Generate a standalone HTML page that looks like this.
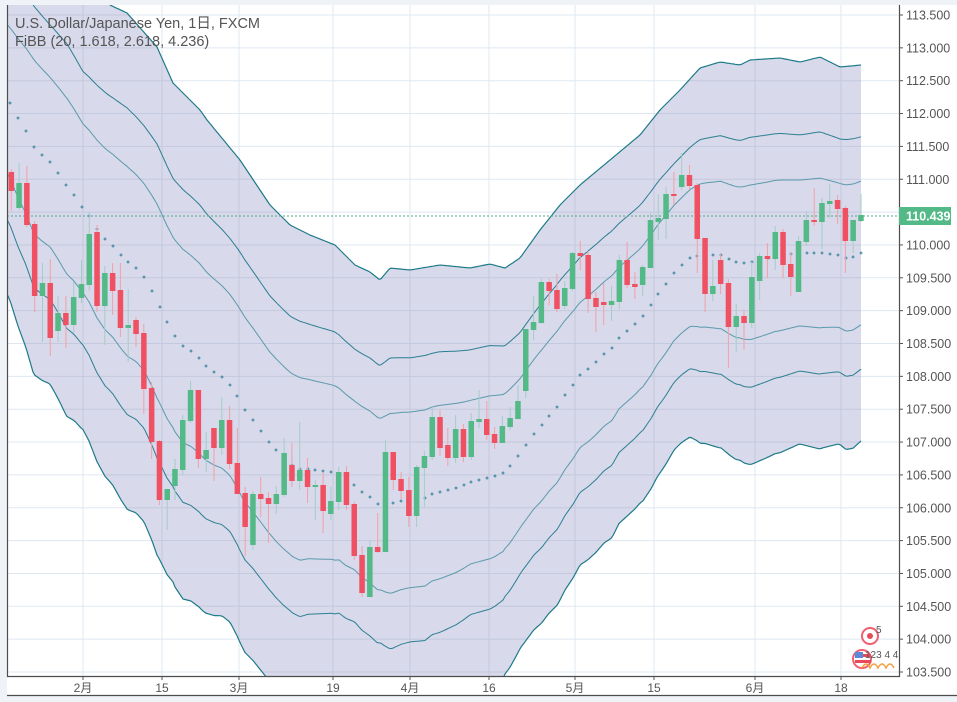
<!DOCTYPE html>
<html><head><meta charset="utf-8"><style>
html,body{margin:0;width:957px;height:702px;background:#eff3f7;overflow:hidden}
svg{display:block;position:absolute;left:0;top:0}
text{font-family:"Liberation Sans","Noto Sans CJK JP",sans-serif;fill:#555}
</style></head><body>
<svg id="s" width="957" height="702" xmlns="http://www.w3.org/2000/svg"></svg>
<script>
const S=document.getElementById('s');let h='';
const X0=7,X1=899,Y0=5,Y1=676;
const mid=[[7,99],[10,103],[18,118],[26,131],[34,147],[42,155],[50,162],[58,173],[66,185],[74,195],[82,207],[89,216],[97,229],[105,239],[113,246],[121,255],[128,262],[136,268],[144,277],[152,291],[160,307],[167,322],[175,336],[183,346],[191,351],[199,358],[206,366],[214,372],[222,377],[230,385],[237,396],[245,410],[253,420],[261,431],[269,442],[276,450],[284,458],[292,465],[300,469],[308,469],[315,470],[323,471],[331,472],[339,474],[346,480],[354,485],[362,492],[370,497],[378,504],[385,504],[393,503],[401,501],[409,500],[417,499],[425,498],[432,494],[440,492],[448,490],[456,488],[464,485],[471,482],[479,480],[487,478],[495,476],[503,473],[510,466],[518,456],[526,445],[534,434],[542,425],[549,416],[557,407],[565,395],[573,385],[580,375],[588,369],[596,362],[604,354],[612,348],[619,338],[627,331],[635,324],[643,316],[651,305],[658,294],[666,284],[674,273],[682,265],[690,258],[697,256],[705,255],[713,255],[721,255],[729,259],[736,262],[744,263],[752,262],[760,260],[768,258],[775,256],[783,255],[791,254],[799,253],[807,253],[814,253],[822,253],[830,254],[838,255],[846,258],[853,257],[861,253]];
const ou=[[7,-96],[33,-82],[50,-60],[67,-44],[83,-13],[110,5],[127,13],[157,47],[173,83],[200,110],[207,120],[240,160],[270,205],[290,225],[310,235],[335,245],[355,265],[370,272],[380,280],[390,268],[410,270],[440,265],[470,268],[490,264],[505,268],[520,258],[540,230],[560,205],[580,185],[610,160],[640,135],[660,110],[680,90],[700,68],[720,62],[740,65],[750,60],[780,58],[800,62],[820,57],[840,67],[861,65]];
function interp(a,x){for(let i=1;i<a.length;i++){if(x<=a[i][0]){const t=(x-a[i-1][0])/(a[i][0]-a[i-1][0]);return a[i-1][1]+t*(a[i][1]-a[i-1][1]);}}return a[a.length-1][1];}
const xs=[];for(let x=7;x<=861;x+=2)xs.push(x);if(xs[xs.length-1]!=861)xs.push(861);
function band(m){return xs.map(x=>{const md=interp(mid,x),u=interp(ou,x),k=(md-u)/4.236;return [x,md+m*k];});}
const pts=a=>a.map(p=>p[0]+','+p[1].toFixed(1)).join(' ');
const U4=band(-4.236),L4=band(4.236);
const poly=`${pts(U4)} ${pts(L4.slice().reverse())}`;
h+=`<rect x="${X0}" y="${Y0}" width="${957-X0}" height="${695-Y0}" fill="#fff"/>`;
h+=`<defs><clipPath id="c"><rect x="${X0}" y="${Y0}" width="${X1-X0}" height="${Y1-Y0}"/></clipPath><clipPath id="f"><polygon points="${poly}"/></clipPath></defs>`;
let g='';
const vx=[83,162,239,333,410,489,575,654,755,841];
for(let i=0;i<=21;i++){const y=15+i*32.85;g+=`<line x1="${X0}" x2="${X1}" y1="${y}" y2="${y}" stroke="#dfe8f1"/>`;}
vx.forEach(x=>g+=`<line x1="${x}" x2="${x}" y1="${Y0}" y2="${Y1}" stroke="#dfe8f1"/>`);
g+=`<polygon points="${poly}" fill="#d8d9ea"/>`;
let gi='';
for(let i=0;i<=21;i++){const y=15+i*32.85;gi+=`<line x1="${X0}" x2="${X1}" y1="${y}" y2="${y}" stroke="#c3c9de"/>`;}
vx.forEach(x=>gi+=`<line x1="${x}" x2="${x}" y1="${Y0}" y2="${Y1}" stroke="#c3c9de"/>`);
g+=`<g clip-path="url(#f)">${gi}</g>`;
[[-2.618,'#2b7f92',1],[2.618,'#2b7f92',1],[-1.618,'#5a9aac',1],[1.618,'#5a9aac',1],[-4.236,'#1d7a88',1.2],[4.236,'#1d7a88',1.2]].forEach(b=>{g+=`<polyline points="${pts(band(b[0]))}" fill="none" stroke="${b[1]}" stroke-width="${b[2]}"/>`;});
g+=`<line x1="${X0}" x2="${X1}" y1="216" y2="216" stroke="#53a98a" stroke-dasharray="2,2"/>`;
mid.slice(1).forEach(p=>{g+=`<path d="M${p[0]-1.5},${p[1]}h3M${p[0]},${p[1]-1.5}v3" stroke="#2f7f99" stroke-width="1"/>`;});
const C=`r 172 191 169 211|g 183 208 163 210|r 183 225 166 227|r 224 296 221 312|g 283 296 263 342|r 283 338 259 356|g 313 331 296 342|r 313 325 296 348|g 297 325 282 333|g 284 298 260 303|g 234 285 212 291|r 232 306 225 312|g 273 306 266 345|r 273 291 263 315|r 290 328 263 337|g 325 328 289 362|r 320 334 317 347|r 333 389 324 414|r 388 442 382 459|r 441 500 440 505|g 489 500 489 530|g 469 486 459 500|g 420 470 415 475|g 390 421 381 423|r 390 459 390 468|g 450 459 432 472|r 428 448 428 481|g 420 448 397 455|r 420 464 406 469|r 463 494 428 494|r 493 527 487 556|g 494 545 491 550|r 494 499 477 517|r 498 504 492 543|g 494 504 486 514|g 453 495 438 497|r 465 481 443 487|g 470 481 422 490|r 470 487 458 503|g 485 487 480 520|r 485 511 473 533|g 501 514 487 520|g 472 502 467 510|r 472 505 466 510|r 504 556 502 560|r 555 593 546 597|g 547 597 541 597|r 547 552 513 553|g 452 552 440 552|r 452 480 452 490|r 479 491 472 499|r 490 516 477 527|g 467 516 465 527|g 456 468 451 507|g 417 457 407 460|r 417 448 410 456|r 445 458 428 466|g 429 458 415 463|r 429 457 424 462|g 421 457 413 460|g 419 422 390 428|r 419 435 401 440|r 434 443 427 449|g 426 443 416 443|g 418 427 407 430|g 401 419 385 419|g 329 391 329 398|g 322 330 296 340|g 282 323 279 324|r 282 291 279 305|r 290 309 274 312|g 288 306 281 309|g 253 289 252 291|r 253 256 241 270|r 255 299 251 313|r 298 307 292 332|r 302 305 283 325|g 301 305 286 321|g 260 302 255 309|r 260 285 242 288|r 284 287 272 299|g 267 285 265 296|g 220 268 213 268|g 218 222 194 240|g 194 219 187 239|r 194 196 172 205|g 175 187 153 190|r 175 186 165 190|r 185 239 183 273|r 238 294 238 312|g 286 294 260 301|r 260 284 254 294|r 283 327 279 368|g 316 327 304 352|r 316 323 310 350|g 277 323 262 328|g 256 281 253 300|r 256 259 243 278|g 232 259 226 270|r 232 265 229 278|r 264 277 253 296|g 241 292 236 292|g 220 242 211 246|r 220 222 188 226|g 203 222 198 249|g 201 204 184 218|r 200 209 195 224|r 208 241 206 273|g 220 241 220 253|g 215 221 194 222`.split('|');
C.forEach((s,i)=>{const [t,a,b,wa,wb]=s.split(' ');const x=11.3+i*7.795;const col=t=='r'?'#ef5062':'#53b987',wc=t=='r'?'#f4a0a8':'#a5cdc7';
g+=`<line x1="${x.toFixed(1)}" x2="${x.toFixed(1)}" y1="${wa}" y2="${wb}" stroke="${wc}" stroke-width="1"/>`;
g+=`<rect x="${(x-2.75).toFixed(1)}" y="${a}" width="5.5" height="${Math.max(2,b-a)}" fill="${col}"/>`;});
h+=`<g clip-path="url(#c)">${g}</g>`;
h+=`<path d="M${X0+0.5},${Y0} V${Y1+0.5} H${X1+0.5} V${Y0}" fill="none" stroke="#4d4d4d" stroke-width="1.2"/>`;
h+=`<line x1="${X0}" x2="957" y1="695.5" y2="695.5" stroke="#4d4d4d" stroke-width="1.2"/>`;
for(let i=0;i<=20;i++){const p=113.5-i*0.5,y=15+i*32.85;h+=`<line x1="899" x2="903" y1="${y}" y2="${y}" stroke="#555"/><text x="906" y="${y+4.5}" font-size="12.5">${p.toFixed(3)}</text>`;}
h+=`<rect x="899" y="207" width="52" height="18" fill="#53b987"/><text x="906" y="220.5" font-size="12.5" font-weight="bold" style="fill:#fff">110.439</text>`;
const lab=['2月','15','3月','19','4月','16','5月','15','6月','18'];
vx.forEach((x,i)=>{h+=`<line x1="${x}" x2="${x}" y1="676" y2="680" stroke="#555"/><text x="${x}" y="692" font-size="12" text-anchor="middle">${lab[i]}</text>`;});
h+=`<text x="15" y="28" font-size="14.5">U.S. Dollar/Japanese Yen, 1日, FXCM</text>`;
h+=`<text x="15" y="46" font-size="14.5">FiBB (20, 1.618, 2.618, 4.236)</text>`;
h+=`<circle cx="870" cy="636" r="8" fill="#fff" stroke="#f06070" stroke-width="2"/><circle cx="870" cy="636" r="3" fill="#e84a5a"/><text x="876" y="633" font-size="10">5</text>`;
h+=`<circle cx="862" cy="659" r="9" fill="#fff" stroke="#f06070" stroke-width="2"/><rect x="855" y="654" width="16" height="3" fill="#e84a5a"/><rect x="855" y="660" width="16" height="3" fill="#e84a5a"/><rect x="855" y="652" width="8" height="6" fill="#5b8ad8"/>`;
h+=`<path d="M862,668 q4,-8 8,0 q4,-8 8,0 q4,-8 8,0 q4,-8 8,0" fill="none" stroke="#f0a040" stroke-width="1.5"/>`;
h+=`<text x="865" y="658" font-size="10">123 4 4</text>`;
S.innerHTML=h;
</script>
</body></html>
